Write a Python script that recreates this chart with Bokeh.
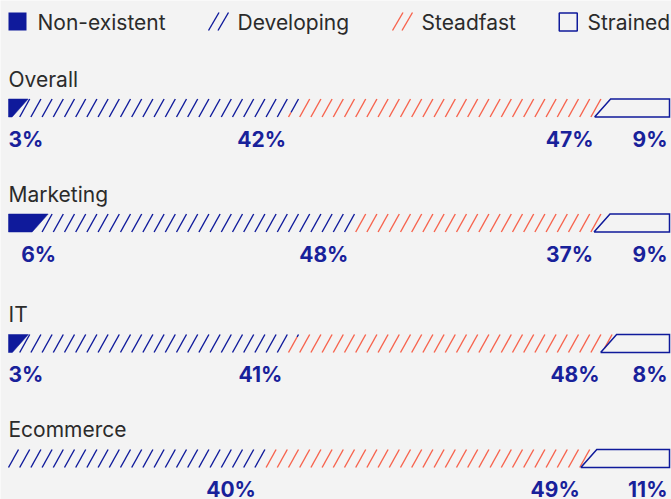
from bokeh.plotting import figure
from bokeh.models import Range1d, ColumnDataSource
from bokeh.embed import file_html
from bokeh.resources import INLINE
from bokeh.core.properties import value

# ---------------- data ----------------
CATEGORIES = ["Overall", "Marketing", "IT", "Ecommerce"]
SERIES = ["Non-existent", "Developing", "Steadfast", "Strained"]
NON_EXISTENT = [3, 6, 3, 0]
DEVELOPING = [42, 48, 41, 40]
STEADFAST = [47, 37, 48, 49]
STRAINED = [9, 9, 8, 11]

# ---------------- style / layout ----------------
BG = "#f3f3f3"
BLUE = "#0f1a9b"
LABEL_BLUE = "#18219a"
RED = "#f7634d"
TEXT = "#2b2b2b"
FONT = "Inter"

FIG_W, FIG_H = 671, 499
PAD = 8                     # inner margin (px)
BAR_PX = 661.0              # pixel length of a full bar
P = BAR_PX / 100.0          # pixels per percent
SLANT = 16.0                # horizontal offset of slanted edges (px)
HATCH_DX = 10.0             # horizontal run of a hatch line (px)
HATCH_SP = 11.2             # hatch spacing (px)
BAR_H = 18.0
BAR_TOP = [90.5, 205.5, 326, 441]
LEG_X = [0, 200, 384, 550]
LEG_TOP = 4
LEG_SIZE = 18
TXT_SHIFT = -9              # text baseline correction

p = figure(width=FIG_W, height=FIG_H,
           x_range=Range1d(-PAD / P, (FIG_W - PAD) / P),
           y_range=Range1d(FIG_H - PAD, -PAD), output_backend="svg",
           toolbar_location=None, min_border=0,
           background_fill_color=BG, border_fill_color=BG,
           outline_line_color=None)
p.axis.visible = False
p.grid.visible = False


def u(px):
    return px / P


def hatch_lines(left, right, top, left_vertical, right_vertical):
    """Return list of (x0,y0,x1,y1) in px for '/' hatch inside a slanted segment."""
    out = []
    bottom = top + BAR_H
    n0 = int((left - SLANT - HATCH_DX) // HATCH_SP) - 1
    n1 = int(right // HATCH_SP) + 2
    for n in range(n0, n1):
        x0 = n * HATCH_SP
        lo, hi = 0.0, 1.0
        if left_vertical:
            lo = max(lo, (left - x0) / HATCH_DX)
        else:
            hi = min(hi, (x0 - left + SLANT) / (SLANT - HATCH_DX))
            lo = max(lo, (0 - x0) / HATCH_DX)
        if right_vertical:
            hi = min(hi, (right - x0) / HATCH_DX)
        else:
            lo = max(lo, (x0 - right + SLANT) / (SLANT - HATCH_DX))
        if hi - lo > 0.02:
            out.append((x0 + HATCH_DX * lo, bottom - BAR_H * lo,
                        x0 + HATCH_DX * hi, bottom - BAR_H * hi))
    return out


solid_xs, solid_ys = [], []
box_xs, box_ys = [], []
hatch = {"dev": [], "std": []}
lab_left = {"x": [], "y": [], "t": []}
lab_right = {"x": [], "y": [], "t": []}

for i, cat in enumerate(CATEGORIES):
    vals = [NON_EXISTENT[i], DEVELOPING[i], STEADFAST[i], STRAINED[i]]
    total = float(sum(vals))
    cum = [0.0]
    for v in vals:
        cum.append(cum[-1] + v)
    b = [c / total * BAR_PX for c in cum]
    top = BAR_TOP[i]
    bot = top + BAR_H
    lab_y = top + 49 + TXT_SHIFT

    p.text(x=[0], y=[top - 11 + TXT_SHIFT], text=[cat], text_font=value(FONT),
           text_font_size="21px", text_color=TEXT, text_baseline="alphabetic",
           text_align="left")

    if vals[0] > 0:
        solid_xs.append([u(0), u(b[1]), u(b[1] - SLANT), u(0)])
        solid_ys.append([top, top, bot, bot])
        lab_left["x"].append(u(max(0, b[1] - 27)))
        lab_left["y"].append(lab_y)
        lab_left["t"].append(f"{vals[0]}%")

    hatch["dev"] += hatch_lines(b[1], b[2], top, b[1] <= 0, False)
    hatch["std"] += hatch_lines(b[2], b[3], top, False, False)

    box_xs.append([u(b[3] - SLANT), u(b[3]), u(b[4]), u(b[4]), u(b[3] - SLANT)])
    box_ys.append([bot, top, top, bot, bot])

    for k in (1, 2):
        lab_right["x"].append(u(b[k + 1] - SLANT - 1))
        lab_right["y"].append(lab_y)
        lab_right["t"].append(f"{vals[k]}%")
    lab_right["x"].append(u(b[4] - 2))
    lab_right["y"].append(lab_y)
    lab_right["t"].append(f"{vals[3]}%")

p.patches(xs=solid_xs, ys=solid_ys, fill_color=BLUE, line_color=BLUE, line_width=0.5)

for key, col in (("dev", BLUE), ("std", RED)):
    segs = hatch[key]
    p.segment(x0=[u(s[0]) for s in segs], y0=[s[1] for s in segs],
              x1=[u(s[2]) for s in segs], y1=[s[3] for s in segs],
              line_color=col, line_width=1.4)

p.multi_line(xs=box_xs, ys=box_ys, line_color=BLUE, line_width=1.5, line_join="miter")

p.text(x="x", y="y", text="t", source=ColumnDataSource(lab_left),
       text_font=value(FONT), text_font_style="bold", text_font_size="21px",
       text_color=LABEL_BLUE, text_align="left", text_baseline="alphabetic")
p.text(x="x", y="y", text="t", source=ColumnDataSource(lab_right),
       text_font=value(FONT), text_font_style="bold", text_font_size="21px",
       text_color=LABEL_BLUE, text_align="right", text_baseline="alphabetic")

# ---------------- legend ----------------
lt, lb = LEG_TOP, LEG_TOP + LEG_SIZE
x = LEG_X[0]
p.quad(left=[u(x)], right=[u(x + LEG_SIZE)], top=[lt], bottom=[lb],
       fill_color=BLUE, line_color=None)
for x, col in ((LEG_X[1], BLUE), (LEG_X[2], RED)):
    p.segment(x0=[u(x), u(x + 9.5)], y0=[lb, lb],
              x1=[u(x + 10.5), u(x + 20)], y1=[lt, lt],
              line_color=col, line_width=1.4)
x = LEG_X[3]
p.quad(left=[u(x + 0.75)], right=[u(x + LEG_SIZE + 0.75)], top=[lt + 0.5],
       bottom=[lb + 0.5], fill_color=None, line_color=BLUE, line_width=1.5)

p.text(x=[u(x0 + 29) for x0 in LEG_X], y=[lb + 1 + TXT_SHIFT] * 4, text=SERIES,
       text_font=value(FONT), text_font_size="21px", text_color=TEXT,
       text_align="left", text_baseline="alphabetic")

html = file_html(p, INLINE)
html = html.replace("<body>", f'<body style="margin:0;background:{BG}">', 1)
open("out.html", "w").write(html)
